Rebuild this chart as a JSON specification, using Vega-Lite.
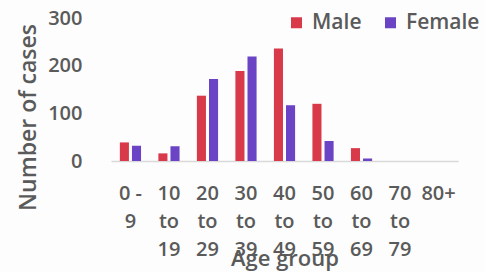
{
  "$schema": "https://vega.github.io/schema/vega-lite/v6.json",
  "width": 347,
  "height": 143,
  "autosize": {"type": "none"},
  "padding": {"left": 111, "top": 18, "right": 27, "bottom": 111},
  "background": "#fdfdfd",
  "config": {
    "view": {"stroke": null},
    "font": "Open Sans",
    "axis": {"labelColor": "#5a5a5a", "titleColor": "#5a5a5a", "labelFont": "Open Sans", "titleFont": "Open Sans", "labelFontWeight": 600, "titleFontWeight": 600, "labelFontSize": 20, "titleFontSize": 22},
    "legend": {"labelColor": "#5a5a5a", "labelFont": "Open Sans", "labelFontWeight": 600, "labelFontSize": 21}
  },
  "data": {
    "values": [
      {"age": "0 - 9", "sex": "Male", "cases": 39},
      {"age": "0 - 9", "sex": "Female", "cases": 32},
      {"age": "10 to 19", "sex": "Male", "cases": 16},
      {"age": "10 to 19", "sex": "Female", "cases": 31},
      {"age": "20 to 29", "sex": "Male", "cases": 137},
      {"age": "20 to 29", "sex": "Female", "cases": 172},
      {"age": "30 to 39", "sex": "Male", "cases": 189},
      {"age": "30 to 39", "sex": "Female", "cases": 219},
      {"age": "40 to 49", "sex": "Male", "cases": 236},
      {"age": "40 to 49", "sex": "Female", "cases": 117},
      {"age": "50 to 59", "sex": "Male", "cases": 120},
      {"age": "50 to 59", "sex": "Female", "cases": 42},
      {"age": "60 to 69", "sex": "Male", "cases": 27},
      {"age": "60 to 69", "sex": "Female", "cases": 5},
      {"age": "70 to 79", "sex": "Male", "cases": 0},
      {"age": "70 to 79", "sex": "Female", "cases": 0},
      {"age": "80+", "sex": "Male", "cases": 0},
      {"age": "80+", "sex": "Female", "cases": 0}
    ]
  },
  "mark": {"type": "bar"},
  "encoding": {
    "x": {
      "field": "age", "type": "nominal", "sort": null,
      "scale": {"paddingInner": 0.45, "paddingOuter": 0.23},
      "axis": {
        "title": "Age group", "labelAngle": 0, "ticks": false,
        "domainColor": "#d9d9d9", "domainWidth": 1.5,
        "labelPadding": 22, "labelLineHeight": 28,
        "labelExpr": "datum.value == '0 - 9' ? ['0 -', '9'] : split(datum.value, ' ')",
        "titleY": 104, "titleBaseline": "alphabetic", "titleFontSize": 22
      }
    },
    "xOffset": {"field": "sex", "type": "nominal", "sort": ["Male", "Female"], "scale": {"paddingInner": 0.25}},
    "y": {
      "field": "cases", "type": "quantitative",
      "scale": {"domain": [0, 300]},
      "axis": {
        "title": "Number of cases", "values": [0, 100, 200, 300], "grid": false, "domain": false, "ticks": false,
        "labelPadding": 29, "titlePadding": 7, "titleFontSize": 23, "titleY": 99
      }
    },
    "color": {
      "field": "sex", "type": "nominal",
      "scale": {"domain": ["Male", "Female"], "range": ["#d93a4a", "#6a44c4"]},
      "legend": {
        "title": null, "orient": "none", "direction": "horizontal",
        "legendX": 175, "legendY": -6,
        "symbolType": "square", "symbolSize": 121, "symbolStrokeWidth": 0,
        "labelOffset": 5, "columnPadding": 18
      }
    }
  }
}
